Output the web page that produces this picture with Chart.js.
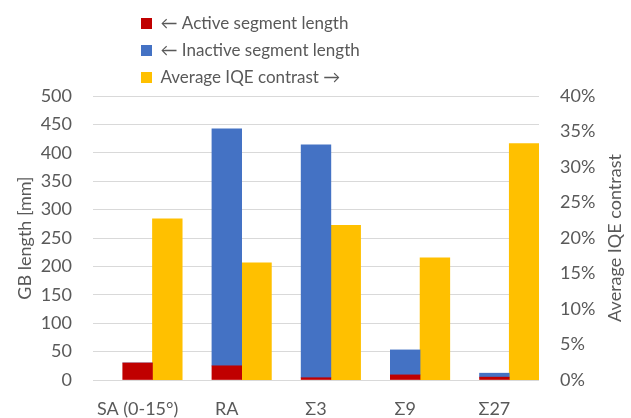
<!DOCTYPE html>
<html>
<head>
<meta charset="utf-8">
<script src="https://cdn.jsdelivr.net/npm/chart.js@4"></script>
<style>
  html, body { margin: 0; padding: 0; background: #fff; }
  #wrap { width: 631px; height: 418px; }
</style>
</head>
<body>
<div id="wrap"><canvas id="c"></canvas></div>
<script>
const categories = ['SA (0-15°)', 'RA', 'Σ3', 'Σ9', 'Σ27']
// GB length [mm], stacked
const activeLength = [30, 25, 4, 9, 5]
const inactiveLength = [0, 417, 410, 44, 7]
// average IQE contrast, fraction
const iqeContrast = [0.227, 0.165, 0.218, 0.172, 0.333]

const textColor = '#595959'
const font = { family: 'Lato', size: 18 }

// legend sits above the plot as a left-aligned column
const legendPlacer = {
  id: 'legendPlacer',
  afterLayout(chart) {
    const lg = chart.legend
    lg.left = 131
    lg.top = 5
    lg.right = 520
    lg.bottom = 140
    lg.width = lg.right - lg.left
    lg.height = lg.bottom - lg.top
  }
}

// right axis title reads bottom-to-top like the left one
const rightTitle = {
  id: 'rightTitle',
  afterDraw(chart) {
    const { ctx, chartArea } = chart
    ctx.save()
    ctx.translate(615, (chartArea.top + chartArea.bottom) / 2)
    ctx.rotate(-Math.PI / 2)
    ctx.fillStyle = textColor
    ctx.font = '18px Lato'
    ctx.textAlign = 'center'
    ctx.textBaseline = 'middle'
    ctx.fillText('Average IQE contrast', 0, 0)
    ctx.restore()
  }
}

new Chart(document.getElementById('c'), {
  type: 'bar',
  data: {
    labels: categories,
    datasets: [
      // empty group on the left so the length stack sits on the category centre
      { label: '', data: [], stack: 'spacer', yAxisID: 'y' },
      { label: '← Active segment length', data: activeLength, backgroundColor: '#C00000', stack: 'len', yAxisID: 'y' },
      { label: '← Inactive segment length', data: inactiveLength, backgroundColor: '#4472C4', stack: 'len', yAxisID: 'y' },
      { label: 'Average IQE contrast →', data: iqeContrast, backgroundColor: '#FFC000', stack: 'iqe', yAxisID: 'y1' }
    ]
  },
  options: {
    responsive: true,
    maintainAspectRatio: false,
    animation: false,
    categoryPercentage: 1,
    barPercentage: 1,
    layout: { padding: { top: 96, bottom: 0 } },
    scales: {
      x: {
        grid: { display: false },
        border: { display: false },
        ticks: { color: textColor, font: font, padding: 10, maxRotation: 0 },
        afterFit(scale) { scale.height = 38 }
      },
      y: {
        stacked: true,
        min: 0,
        max: 500,
        grid: { color: '#D9D9D9', drawTicks: false },
        border: { display: false },
        ticks: { stepSize: 50, color: textColor, font: font, padding: 21 },
        title: { display: true, text: 'GB length [mm]', color: textColor, font: font, padding: { top: 14, bottom: 0 } },
        afterFit(scale) { scale.width = 93 }
      },
      y1: {
        position: 'right',
        min: 0,
        max: 0.4,
        grid: { display: false, drawTicks: false },
        border: { display: false },
        ticks: {
          stepSize: 0.05,
          color: textColor,
          font: font,
          padding: 21,
          callback: v => Math.round(v * 100) + '%'
        },
        afterFit(scale) { scale.width = 92 }
      }
    },
    plugins: {
      legend: {
        position: 'chartArea',
        align: 'start',
        labels: {
          color: textColor,
          font: { family: 'Lato', size: 17 },
          boxWidth: 11,
          boxHeight: 11,
          padding: 10,
          filter: item => item.text !== ''
        }
      },
      tooltip: { enabled: false }
    }
  },
  plugins: [legendPlacer, rightTitle]
})
</script>
</body>
</html>
